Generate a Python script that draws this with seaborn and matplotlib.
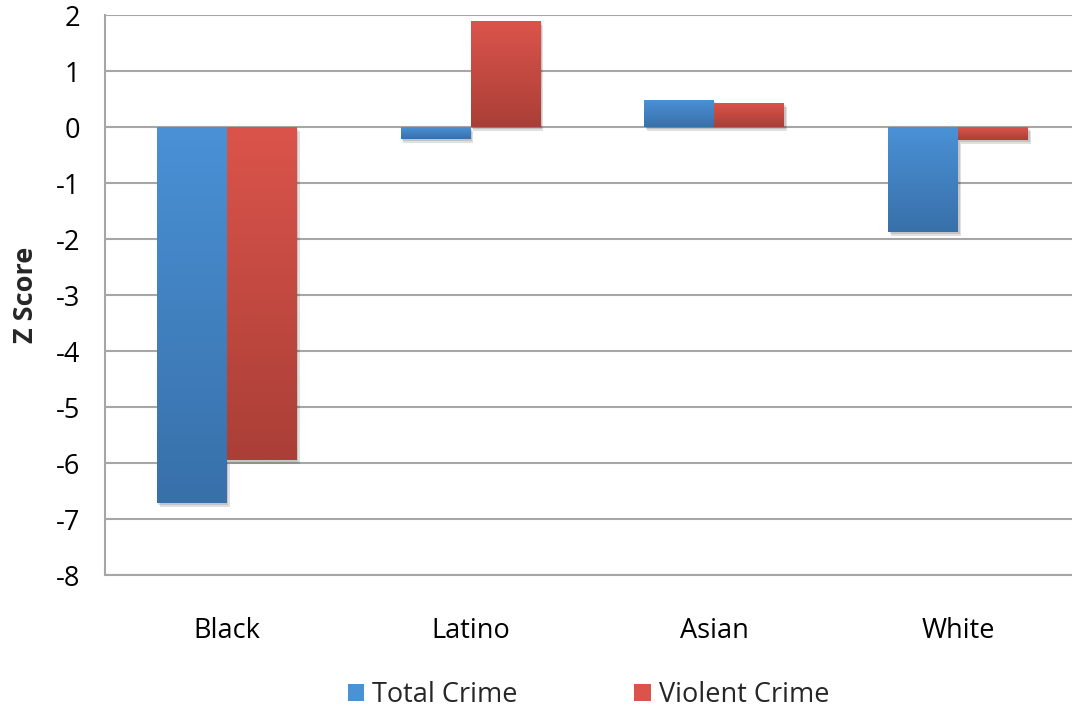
import numpy as np
import pandas as pd
import matplotlib
matplotlib.use("Agg")
import matplotlib.pyplot as plt
import matplotlib.patheffects as pe
from matplotlib.colors import LinearSegmentedColormap
from matplotlib.patches import Patch
import seaborn as sns

# data
groups = ["Black", "Latino", "Asian", "White"]
total_crime = [-6.71, -0.21, 0.48, -1.87]
violent_crime = [-5.95, 1.89, 0.43, -0.23]
series = ["Total Crime", "Violent Crime"]

df = pd.DataFrame({
    "group": groups * 2,
    "z": total_crime + violent_crime,
    "series": [series[0]] * 4 + [series[1]] * 4,
})

# gradient colours (top -> bottom) per series
grad = {
    "Total Crime": ("#4a91d6", "#3870a9"),
    "Violent Crime": ("#db544b", "#aa3f37"),
}

sns.set_theme(style="white")
plt.rcParams["font.family"] = ["Open Sans", "DejaVu Sans"]
plt.rcParams["axes.unicode_minus"] = False

fig = plt.figure(figsize=(10.72, 7.15), dpi=100)
ax = fig.add_axes([105 / 1072, 140 / 715, 1 - 105 / 1072, 560 / 715])

sns.barplot(data=df, x="group", y="z", hue="series", order=groups,
            hue_order=series, palette=[grad[s][0] for s in series],
            width=0.574, gap=0, ax=ax, legend=False, errorbar=None,
            saturation=1, edgecolor="none", linewidth=0)

# gradient fill + soft shadow on every bar
n = len(groups)
for i, bar in enumerate(ax.patches[:2 * n]):
    s = series[i // n]
    cmap = LinearSegmentedColormap.from_list(s, [grad[s][0], grad[s][1]])
    x0, y0 = bar.get_x(), bar.get_y()
    w, h = bar.get_width(), bar.get_height()
    lo, hi = min(y0, y0 + h), max(y0, y0 + h)
    bar.set_path_effects([pe.SimplePatchShadow(offset=(2, -3), alpha=0.12, shadow_rgbFace="black"),
                          pe.SimplePatchShadow(offset=(1, -1.5), alpha=0.12, shadow_rgbFace="black"),
                          pe.Normal()])
    img = np.linspace(0, 1, 256).reshape(-1, 1)
    im = ax.imshow(img, cmap=cmap, aspect="auto", extent=[x0, x0 + w, lo, hi],
                   origin="upper", zorder=bar.get_zorder() + 0.1, interpolation="bilinear")
    im.set_clip_path(bar)

ax.set_xlim(-0.5, 3.467)
ax.set_ylim(-8, 2)
ax.set_yticks(range(-8, 3))

ax.grid(axis="y", color="#a6a6a6", linewidth=1.5)
ax.set_axisbelow(True)
for side in ["top", "right"]:
    ax.spines[side].set_visible(False)
for side in ["left", "bottom"]:
    ax.spines[side].set_color("#a6a6a6")
    ax.spines[side].set_linewidth(1.5)

ax.tick_params(axis="y", labelsize=19.5, pad=18, length=0, colors="black")
ax.tick_params(axis="x", labelsize=19.5, pad=30, length=0, colors="black")
ax.set_xlabel("")
ax.set_ylabel("Z Score", fontsize=19.5, fontweight="bold")
ax.yaxis.set_label_coords(-0.068, 0.5)

handles = [Patch(facecolor=grad[s][0], edgecolor="none") for s in series]
fig.legend(handles, series, loc="center", bbox_to_anchor=(0.549, 0.028), ncol=2,
           frameon=False, fontsize=19.5, handlelength=0.6, handleheight=0.6,
           handletextpad=0.3, columnspacing=4.3)

fig.savefig("out.png", dpi=100)
